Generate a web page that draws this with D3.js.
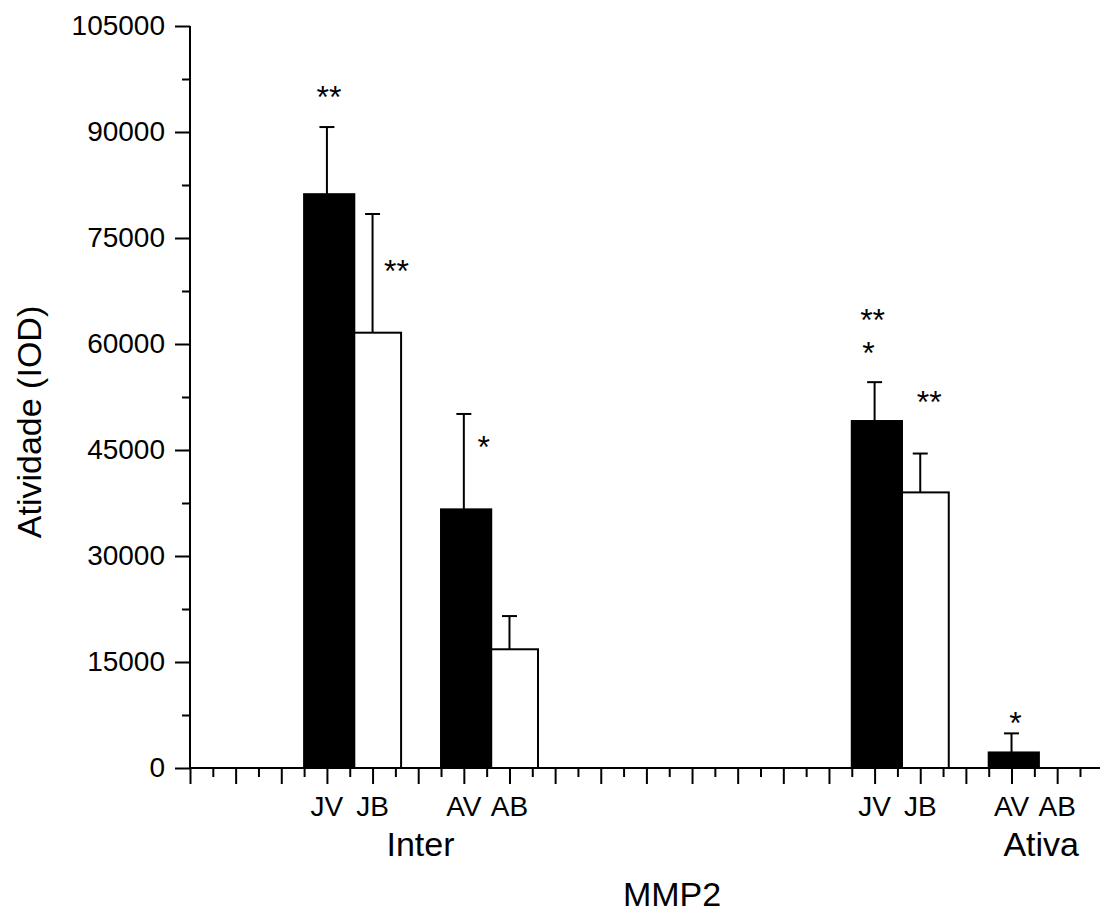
<!DOCTYPE html>
<html>
<head>
<meta charset="utf-8">
<script src="https://cdn.jsdelivr.net/npm/d3@7"></script>
<style>
  html, body { margin: 0; padding: 0; background: #fff; }
  svg { display: block; font-family: "Liberation Sans", Arial, sans-serif; }
</style>
</head>
<body>
<svg id="chart" width="1100" height="924"></svg>
<script>
// ---- data ----
const groups = ["Inter", "Ativa"];
const categories = ["JV", "JB", "AV", "AB"];
const interValues = [81200, 61600, 36600, 16800];
const interErrors = [9500, 16800, 13500, 4700];
const ativaValues = [49100, 39000, 2200, 0];
const ativaErrors = [5500, 5500, 2700, 0];
const interStars = ["**", "**", "*", ""];
const ativaStars = [["**", "*"], ["**"], ["*"], []];
const yTicks = [0, 15000, 30000, 45000, 60000, 75000, 90000, 105000];
const xTitle = "MMP2";
const yTitle = "Atividade (IOD)";

// ---- layout ----
const svg = d3.select("#chart");
const x = d3.scaleLinear().domain([0, 40]).range([190, 1102.8]);
const y = d3.scaleLinear().domain([0, 105000]).range([768, 26]);
const tickFont = 28, titleFont = 34, starFont = 32;

function slot(gi, ci) { return 6 + 24 * gi + 2 * ci + (ci >= 2 ? 2 : 0); }
const darkFill = ci => ci % 2 === 0;

const bars = [];
[interValues, ativaValues].forEach((vals, gi) => {
  const errs = gi === 0 ? interErrors : ativaErrors;
  vals.forEach((v, ci) => {
    bars.push({ gi, ci, v, e: errs[ci], p: slot(gi, ci) });
  });
});

// bars
svg.append("g").selectAll("rect").data(bars.filter(d => d.v > 0)).join("rect")
  .attr("x", d => darkFill(d.ci) ? x(d.p - 1.0) : x(d.p - 0.8))
  .attr("width", d => darkFill(d.ci) ? x(2.2) - x(0) : x(2.05) - x(0))
  .attr("y", d => y(d.v))
  .attr("height", d => y(0) - y(d.v))
  .attr("fill", d => darkFill(d.ci) ? "#000" : "#fff")
  .attr("stroke", "#000")
  .attr("stroke-width", 2);

// error bars
const eg = svg.append("g").attr("stroke", "#000").attr("stroke-width", 2);
bars.filter(d => d.e > 0).forEach(d => {
  eg.append("line").attr("x1", x(d.p)).attr("x2", x(d.p))
    .attr("y1", y(d.v)).attr("y2", y(d.v + d.e));
  eg.append("line").attr("x1", x(d.p) - 7.5).attr("x2", x(d.p) + 7.5)
    .attr("y1", y(d.v + d.e)).attr("y2", y(d.v + d.e));
});

// significance stars (offsets in px from error-bar top)
const starOffsets = [
  [[2, -37], [24, 50], [20, 26], []],
  [[[-2, -69], [-6, -36]], [[9, -59]], [[4, -18]], []]
];
const sg = svg.append("g").attr("font-size", starFont).attr("text-anchor", "middle");
bars.forEach(d => {
  const topY = y(d.v + d.e), cx = x(d.p);
  if (d.gi === 0) {
    const t = interStars[d.ci];
    if (!t) return;
    const o = starOffsets[0][d.ci];
    sg.append("text").attr("x", cx + o[0]).attr("y", topY + o[1] + 0.57 * starFont).text(t);
  } else {
    ativaStars[d.ci].forEach((t, k) => {
      const o = starOffsets[1][d.ci][k];
      sg.append("text").attr("x", cx + o[0]).attr("y", topY + o[1] + 0.57 * starFont).text(t);
    });
  }
});

// y axis
const yMinor = d3.range(7500, 105000, 15000);
const yAxisMajor = d3.axisLeft(y).tickValues(yTicks).tickSize(15).tickPadding(10).tickFormat(d3.format("d"));
const yAxisMinor = d3.axisLeft(y).tickValues(yMinor).tickSize(8).tickFormat("");
const ga = svg.append("g").attr("transform", `translate(${x(0)},0)`).call(yAxisMajor);
svg.append("g").attr("transform", `translate(${x(0)},0)`).call(yAxisMinor);
ga.selectAll("text").attr("font-size", tickFont).attr("fill", "#000")
  .attr("font-family", "Liberation Sans, Arial, sans-serif");

// x axis
const xMajor = d3.range(0, 40, 2), xMinorT = d3.range(1, 40, 2);
svg.append("g").attr("transform", `translate(0,${y(0)})`)
  .call(d3.axisBottom(x).tickValues(xMajor).tickSize(16).tickFormat(""));
svg.append("g").attr("transform", `translate(0,${y(0)})`)
  .call(d3.axisBottom(x).tickValues(xMinorT).tickSize(9).tickFormat(""));

svg.selectAll(".tick line").attr("stroke", "#000").attr("stroke-width", 2);
svg.selectAll(".domain").remove();
svg.append("line").attr("x1", x(0)).attr("x2", x(0)).attr("y1", y(0)).attr("y2", y(105000))
  .attr("stroke", "#000").attr("stroke-width", 2);
svg.append("line").attr("x1", x(0)).attr("x2", x(40)).attr("y1", y(0)).attr("y2", y(0))
  .attr("stroke", "#000").attr("stroke-width", 2);

// category labels
const lg = svg.append("g").attr("font-size", tickFont).attr("text-anchor", "middle");
groups.forEach((g, gi) => {
  categories.forEach((c, ci) => {
    lg.append("text").attr("x", x(slot(gi, ci))).attr("y", 816).text(c);
  });
});
// group labels (Inter centred in its group, Ativa placed under AV/AB as in the figure)
const groupLabelPos = [10.1, 37.3];
groups.forEach((g, gi) => {
  svg.append("text").attr("x", x(groupLabelPos[gi])).attr("y", 856)
    .attr("font-size", titleFont).attr("text-anchor", "middle").text(g);
});

// axis titles
svg.append("text").attr("x", 672).attr("y", 906)
  .attr("font-size", titleFont).attr("text-anchor", "middle").text(xTitle);
svg.append("text").attr("transform", "translate(41,422) rotate(-90)")
  .attr("font-size", titleFont).attr("text-anchor", "middle").text(yTitle);
</script>
</body>
</html>
